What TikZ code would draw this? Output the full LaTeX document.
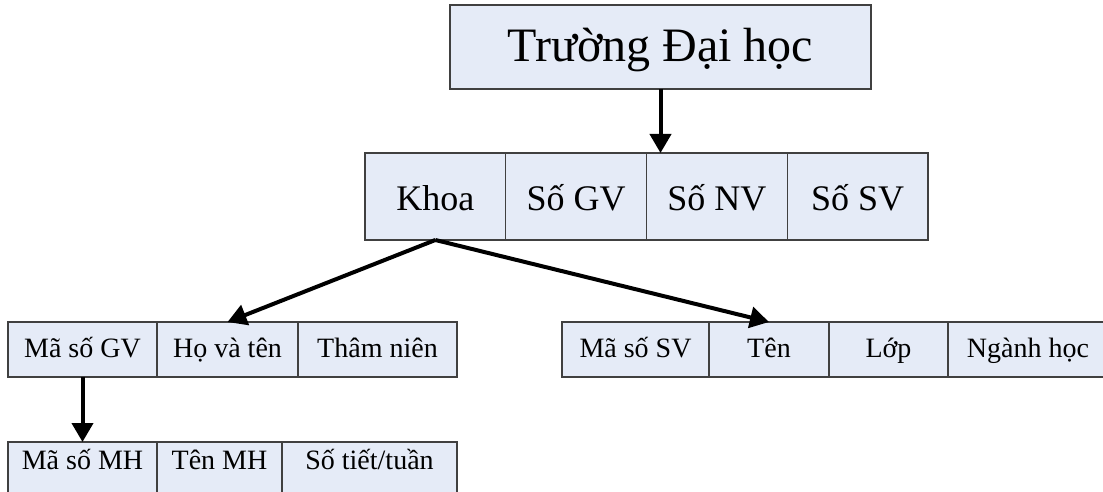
\documentclass[tikz,border=0pt]{standalone}
\usepackage{fontspec}
\setmainfont{Liberation Serif}
\usetikzlibrary{arrows.meta,positioning}
\definecolor{nenO}{RGB}{229,235,247}
\definecolor{vienO}{RGB}{64,64,64}
\tikzset{
  o/.style={rectangle, draw=vienO, fill=nenO, line width=1.3pt, inner sep=0pt,
            outer sep=0pt, align=center},
  tieude/.style={o, minimum width=421pt, minimum height=84pt,
                 font=\fontsize{48}{52}\selectfont, text height=34pt, text depth=4pt},
  hang2/.style={o, minimum width=140.75pt, minimum height=87pt,
                font=\fontsize{36}{40}\selectfont, text height=28pt, text depth=1pt},
  hang3/.style={o, minimum height=55pt, font=\fontsize{28}{32}\selectfont,
                text height=20pt, text depth=4pt},
  hang4/.style={hang3, text depth=20pt},
  muiten/.style={-{Triangle[length=19pt,width=21pt]}, line width=4pt}
}
\begin{document}
\begin{tikzpicture}[x=1pt,y=-1pt]
\useasboundingbox (0,0) rectangle (1103,492);

% cap truong
\node[tieude,anchor=north west] (truong) at (450,5) {Trường Đại học};

% cap khoa
\node[hang2,anchor=north west] (khoa) at (365,153) {Khoa};
\node[hang2,right=0pt of khoa] (sogv) {Số GV};
\node[hang2,right=0pt of sogv] (sonv) {Số NV};
\node[hang2,right=0pt of sonv] (sosv) {Số SV};

% giao vien
\node[hang3,minimum width=149pt,anchor=north west] (masogv) at (8,322) {Mã số GV};
\node[hang3,minimum width=141pt,right=0pt of masogv] (hoten) {Họ và tên};
\node[hang3,minimum width=159pt,right=0pt of hoten] (thamnien) {Thâm niên};

% sinh vien
\node[hang3,minimum width=147pt,anchor=north west] (masosv) at (562,322) {Mã số SV};
\node[hang3,minimum width=120pt,right=0pt of masosv] (ten) {Tên};
\node[hang3,minimum width=119pt,right=0pt of ten] (lop) {Lớp};
\node[hang3,minimum width=160pt,right=0pt of lop] (nganh) {Ngành học};

% mon hoc
\node[hang4,minimum width=149pt,anchor=north west] (masomh) at (8,442) {Mã số MH};
\node[hang4,minimum width=125pt,right=0pt of masomh] (tenmh) {Tên MH};
\node[hang4,minimum width=175pt,right=0pt of tenmh] (sotiet) {Số tiết/tuần};

\draw[muiten] (truong.south) -- (truong.south |- sonv.north);
\draw[muiten] (khoa.south) -- (hoten.north);
\draw[muiten] (khoa.south) -- (ten.north);
\draw[muiten] (masogv.south) -- (masomh.north);
\end{tikzpicture}
\end{document}
